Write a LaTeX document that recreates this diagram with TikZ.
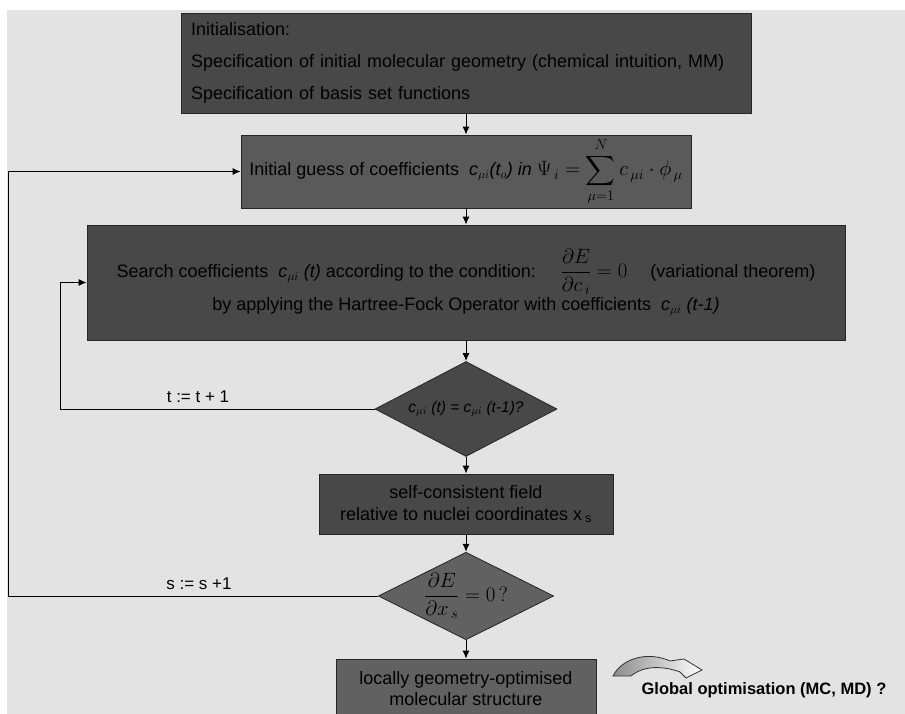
\documentclass[tikz,border=0pt]{standalone}
\usepackage{fontspec}
\setmainfont{Liberation Sans}
\usepackage{amsmath}
\usepackage{xcolor}
\usetikzlibrary{arrows.meta}
\usetikzlibrary{shapes.geometric}
\usetikzlibrary{math}

\definecolor{bggray}{HTML}{E3E3E3}
\definecolor{darkbox}{HTML}{484848}
\definecolor{midbox}{HTML}{5A5A5A}
\definecolor{lightbox}{HTML}{616161}

\tikzset{
box/.style={draw=black!85, line width=0.8pt, inner sep=0pt, font=\fontsize{18}{22}\selectfont},
decision/.style={diamond, draw=black!85, line width=0.8pt, inner sep=0pt, aspect=2},
flow/.style={-{Latex[length=8pt,width=7pt]}, line width=1pt},
}

\begin{document}
\begin{tikzpicture}[x=1pt,y=-1pt]
\tikzmath{
\cx=466;
}
\clip (0,0) rectangle (905,714);
\fill[bggray] (7,10) rectangle (905,714);

\node[box, fill=darkbox, minimum width=570pt, minimum height=100pt, text width=550pt, align=left, font=\fontsize{18}{32}\selectfont] (init) at (\cx,63)
{Initialisation:\\Specification of initial molecular geometry (chemical intuition, MM)\\Specification of basis set functions};

\node[box, fill=midbox, minimum width=450pt, minimum height=73pt] (guess) at (\cx,171.5)
{Initial guess of coefficients \ \textit{c}$_{\mu i}$\textit{(t$_o$) in} {\fontsize{20}{22}\selectfont$\Psi_{\,i}=\displaystyle\sum_{\mu=1}^{N} c_{\,\mu i}\cdot\phi_{\,\mu}$}};

\node[box, fill=darkbox, minimum width=758pt, minimum height=115pt, align=center] (search) at (\cx,282.5)
{Search coefficients \ \textit{c}$_{\mu i}$ \textit{(t)} according to the condition: \quad {\fontsize{21}{22}\selectfont$\displaystyle\frac{\partial E}{\partial c_{\,i}}=0$} \quad (variational theorem)\\[2pt]
by applying the Hartree-Fock Operator with coefficients \ \textit{c}$_{\mu i}$ \textit{(t-1)}};

\node[decision, fill=darkbox, minimum width=182pt, minimum height=95pt, font=\fontsize{15.5}{18}\selectfont\itshape] (conv) at (\cx,409)
{c$_{\mu i}$ (t) = c$_{\mu i}$ (t-1)?};

\node[box, fill=darkbox, minimum width=294pt, minimum height=60pt, align=center] (scf) at (\cx,504)
{self-consistent field\\relative to nuclei coordinates x\,\textsubscript{s}};

\node[decision, fill=lightbox, minimum width=149pt, minimum height=87pt, font=\fontsize{21}{24}\selectfont] (grad) at (\cx,596)
{$\dfrac{\partial E}{\partial x_{\,s}}=0\,?$};

\node[box, fill=lightbox, minimum width=260pt, minimum height=60pt, align=center, font=\fontsize{18}{21}\selectfont] (final) at (\cx,689)
{locally geometry-optimised\\molecular structure};

\node[font=\bfseries\fontsize{16.5}{20}\selectfont] (global) at (764,690) {Global optimisation (MC, MD) ?};

% main chain
\draw[flow] (init) -- (guess);
\draw[flow] (guess) -- (search);
\draw[flow] (search) -- (conv);
\draw[flow] (conv) -- (scf);
\draw[flow] (scf) -- (grad);
\draw[flow] (grad) -- (final);

% loops back
\coordinate (tcorner) at (60,409);
\coordinate (scorner) at (8,596);
\draw[flow] (conv.west) -- (tcorner) |- (search.west);
\draw[flow] (grad.west) -- (scorner) |- (guess.west);
\node[font=\fontsize{17}{20}\selectfont] (tlabel) at (198,397) {t := t + 1};
\node[font=\fontsize{17}{20}\selectfont] (slabel) at (199,584) {s := s +1};

% curved arrow to global optimisation
\shade[left color=gray!90, right color=white, draw=black!80, line width=0.8pt]
(613,676) .. controls (622,658) and (648,651) .. (670,661)
-- (684,659) -- (702,670) -- (686,678) -- (680,672)
.. controls (664,666) and (644,665) .. (631,676) -- cycle;
\end{tikzpicture}
\end{document}
